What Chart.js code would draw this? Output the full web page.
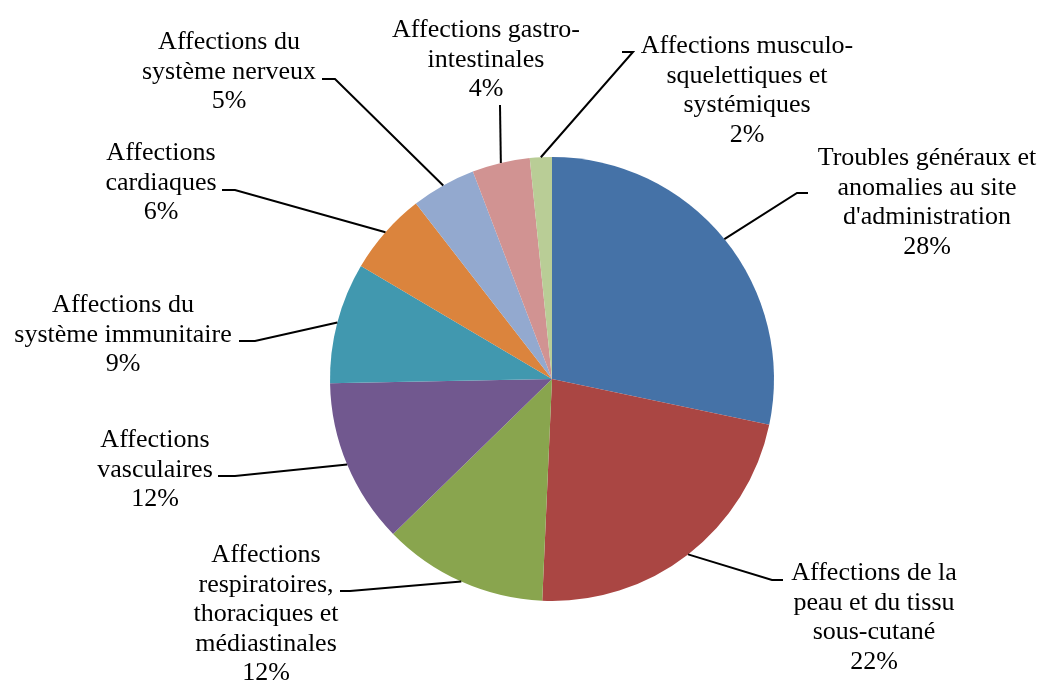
<!DOCTYPE html>
<html lang="fr">
<head>
<meta charset="utf-8">
<title>Répartition des effets indésirables</title>
<script src="https://cdn.jsdelivr.net/npm/chart.js@4/dist/chart.umd.min.js"></script>
<style>
  html, body { margin: 0; padding: 0; background: #fff; }
  #wrap { width: 1041px; height: 686px; position: relative; }
</style>
</head>
<body>
<div id="wrap"><canvas id="chart-effets" width="1041" height="686"></canvas></div>
<script>
/* ── Données ─────────────────────────────────────────────── */
const CATEGORIES = [
  ['Troubles généraux et', 'anomalies au site', "d'administration"],
  ['Affections de la', 'peau et du tissu', 'sous-cutané'],
  ['Affections', 'respiratoires,', 'thoraciques et', 'médiastinales'],
  ['Affections', 'vasculaires'],
  ['Affections du', 'système immunitaire'],
  ['Affections', 'cardiaques'],
  ['Affections du', 'système nerveux'],
  ['Affections gastro-', 'intestinales'],
  ['Affections musculo-', 'squelettiques et', 'systémiques'],
];
const VALEURS = [28.3, 22.4, 12.0, 12.0, 8.8, 6.0, 4.7, 4.2, 1.6];
const COULEURS = [
  '#4572a7', '#aa4643', '#89a54e', '#71588f', '#4198af',
  '#db843d', '#93a9cf', '#d19392', '#b9cd96',
];

/* ── Placement des étiquettes (centre texte, 1re ligne, coude, fin trait) */
const ETIQUETTES = [
  { cx: 927, y0: 165, coude: [797, 193], fin: 808 },
  { cx: 874, y0: 580, coude: [772, 580], fin: 783 },
  { cx: 266, y0: 562, coude: [350, 591], fin: 340 },
  { cx: 155, y0: 447, coude: [235, 476], fin: 218 },
  { cx: 123, y0: 312, coude: [255, 341], fin: 239 },
  { cx: 161, y0: 160, coude: [235, 190], fin: 222 },
  { cx: 229, y0: 49,  coude: [335, 79],  fin: 322 },
  { cx: 486, y0: 37,  coude: [500, 105], fin: 500 },
  { cx: 747, y0: 53,  coude: [633, 52],  fin: 622 },
];
const INTERLIGNE = 29.6;
const POLICE = '26px "Liberation Serif", "Times New Roman", serif';

/* ── Plugin : étiquettes extérieures + traits de rappel ───── */
const pluginEtiquettes = {
  id: 'etiquettes',
  afterDraw(chart) {
    const ctx  = chart.ctx;
    const arcs = chart.getDatasetMeta(0).data;
    ctx.save();
    ctx.strokeStyle = '#000';
    ctx.lineWidth   = 2;
    arcs.forEach((arc, i) => {
      const p   = arc.getProps(['x', 'y', 'startAngle', 'endAngle', 'outerRadius'], true);
      const mid = (p.startAngle + p.endAngle) / 2;
      const ex  = p.x + Math.cos(mid) * p.outerRadius;
      const ey  = p.y + Math.sin(mid) * p.outerRadius;
      const e   = ETIQUETTES[i];
      ctx.beginPath();
      ctx.moveTo(ex, ey);
      ctx.lineTo(e.coude[0], e.coude[1]);
      ctx.lineTo(e.fin, e.coude[1]);
      ctx.stroke();
    });

    ctx.fillStyle    = '#000';
    ctx.font         = POLICE;
    ctx.textAlign    = 'center';
    ctx.textBaseline = 'alphabetic';
    CATEGORIES.forEach((lignes, i) => {
      const e = ETIQUETTES[i];
      const texte = [...lignes, Math.round(VALEURS[i]) + '%'];
      texte.forEach((l, k) => ctx.fillText(l, e.cx, e.y0 + k * INTERLIGNE));
    });
    ctx.restore();
  },
};

/* ── Graphique ───────────────────────────────────────────── */
new Chart(document.getElementById('chart-effets').getContext('2d'), {
  type: 'pie',
  data: {
    labels: CATEGORIES.map(c => c.join(' ')),
    datasets: [{
      data            : VALEURS,
      backgroundColor : COULEURS,
      borderWidth     : 0,
      hoverOffset     : 0,
    }],
  },
  options: {
    responsive : false,
    animation  : false,
    events     : [],
    layout     : { padding: { left: 330, right: 267, top: 157, bottom: 85 } },
    plugins    : {
      legend  : { display: false },
      tooltip : { enabled: false },
    },
  },
  plugins: [pluginEtiquettes],
});
</script>
</body>
</html>
